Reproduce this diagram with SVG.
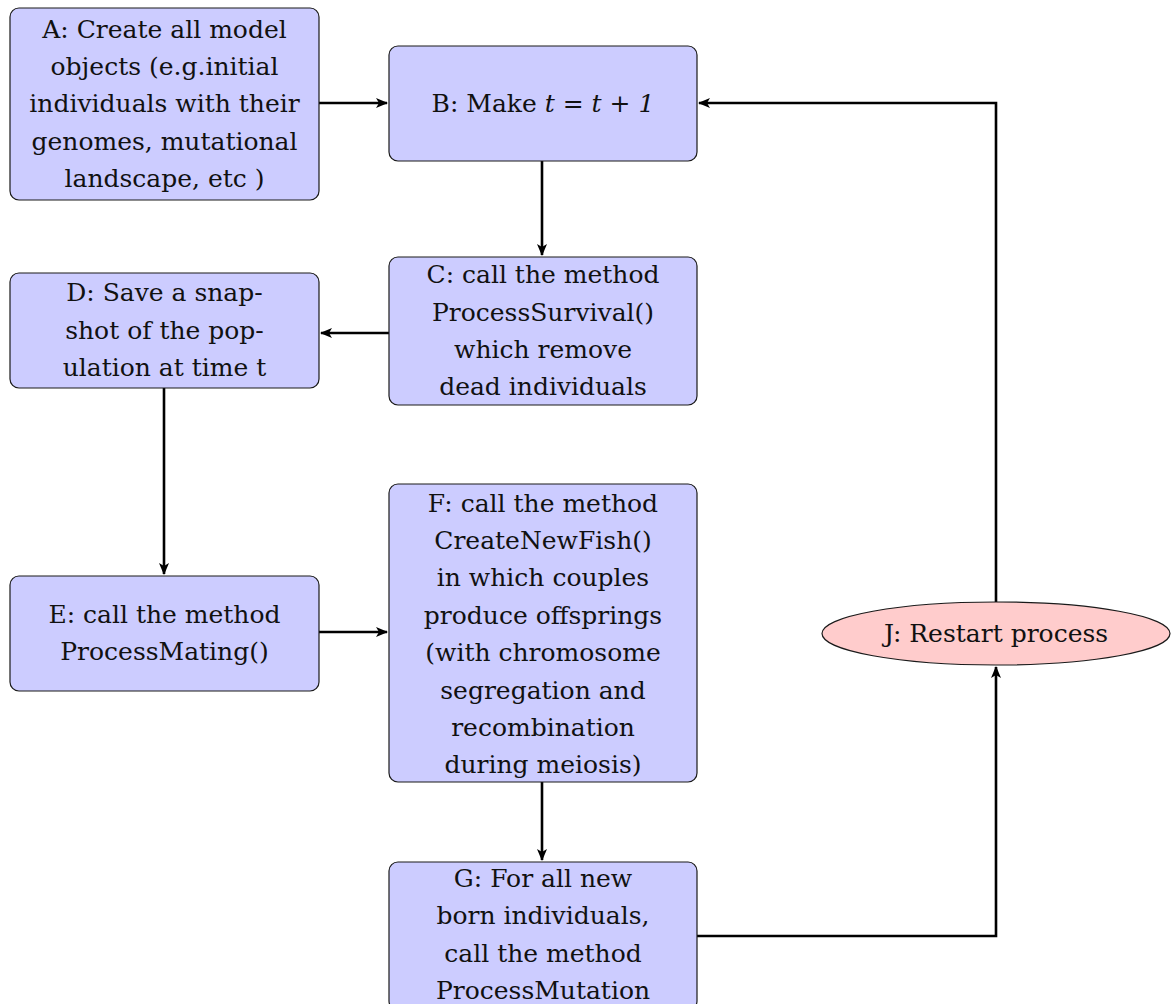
<svg xmlns="http://www.w3.org/2000/svg" width="1175" height="1004" viewBox="0 0 1175 1004">
<style>
.box{fill:#ccccff;stroke:#1a1a1a;stroke-width:1.2}
.ell{fill:#ffcccc;stroke:#1a1a1a;stroke-width:1.2}
text{font-family:"DejaVu Serif","Liberation Serif",serif;font-size:25px;fill:#111;text-anchor:middle}
.c{fill:none;stroke:#000;stroke-width:2.6}
</style>
<defs>
<marker id="ah" markerWidth="12" markerHeight="10" refX="11" refY="5" orient="auto" markerUnits="userSpaceOnUse">
<path d="M0,0 L12,5 L0,10 L3,5 Z" fill="#000"/>
</marker>
</defs>
<rect width="1175" height="1004" fill="#fff"/>
<g id="connectors">
<path class="c" d="M319,103 H387" marker-end="url(#ah)"/>
<path class="c" d="M542,161 V255" marker-end="url(#ah)"/>
<path class="c" d="M389,333 H321" marker-end="url(#ah)"/>
<path class="c" d="M164,388 V574" marker-end="url(#ah)"/>
<path class="c" d="M319,632 H387" marker-end="url(#ah)"/>
<path class="c" d="M542,782 V860" marker-end="url(#ah)"/>
<path class="c" d="M697,936 H996 V667" marker-end="url(#ah)"/>
<path class="c" d="M996,602 V103 H699" marker-end="url(#ah)"/>
</g>
<g id="A">
<rect class="box" x="10" y="8" width="309" height="192" rx="9"/>
<text x="164.5" y="38">A: Create all model</text>
<text x="164.5" y="75">objects (e.g.initial</text>
<text x="164.5" y="112">individuals with their</text>
<text x="164.5" y="149.5">genomes, mutational</text>
<text x="164.5" y="187">landscape, etc )</text>
</g>
<g id="B">
<rect class="box" x="389" y="46" width="308" height="115" rx="9"/>
<text x="543" y="112">B: Make <tspan font-style="italic">t</tspan> = <tspan font-style="italic">t</tspan> + <tspan font-style="italic">1</tspan></text>
</g>
<g id="C">
<rect class="box" x="389" y="257" width="308" height="148" rx="9"/>
<text x="543" y="283">C: call the method</text>
<text x="543" y="320.5">ProcessSurvival()</text>
<text x="543" y="358">which remove</text>
<text x="543" y="395">dead individuals</text>
</g>
<g id="D">
<rect class="box" x="10" y="273" width="309" height="115" rx="9"/>
<text x="164.5" y="301">D: Save a snap-</text>
<text x="164.5" y="338.5">shot of the pop-</text>
<text x="164.5" y="376">ulation at time t</text>
</g>
<g id="E">
<rect class="box" x="10" y="576" width="309" height="115" rx="9"/>
<text x="164.5" y="623">E: call the method</text>
<text x="164.5" y="660">ProcessMating()</text>
</g>
<g id="F">
<rect class="box" x="389" y="484" width="308" height="298" rx="9"/>
<text x="543" y="511.5">F: call the method</text>
<text x="543" y="548.9">CreateNewFish()</text>
<text x="543" y="586.3">in which couples</text>
<text x="543" y="623.7">produce offsprings</text>
<text x="543" y="661.1">(with chromosome</text>
<text x="543" y="698.5">segregation and</text>
<text x="543" y="735.9">recombination</text>
<text x="543" y="773.3">during meiosis)</text>
</g>
<g id="G">
<rect class="box" x="389" y="862" width="308" height="148" rx="9"/>
<text x="543" y="887">G: For all new</text>
<text x="543" y="924.4">born individuals,</text>
<text x="543" y="961.8">call the method</text>
<text x="543" y="998.5">ProcessMutation</text>
</g>
<g id="J">
<ellipse class="ell" cx="996" cy="633.5" rx="174" ry="31.5"/>
<text x="996" y="642">J: Restart process</text>
</g>
</svg>
